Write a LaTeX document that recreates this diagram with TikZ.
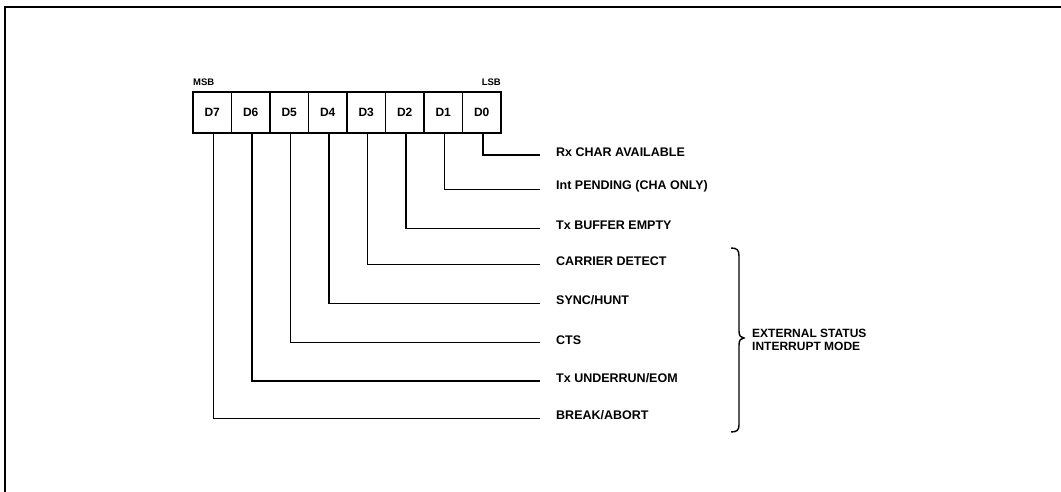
\documentclass[tikz,border=0pt]{standalone}
\usepackage{fontspec}
\setmainfont{Liberation Sans}
\begin{document}
\begin{tikzpicture}[x=1pt,y=-1pt,
  cell/.style={draw,line width=1.8pt,minimum width=38.5pt,minimum height=40.5pt,inner sep=0pt,
    font=\fontsize{12}{13}\selectfont\bfseries},
  lbl/.style={anchor=west,inner sep=0pt,font=\fontsize{12.5}{14}\selectfont\bfseries},
  small/.style={inner sep=0pt,font=\fontsize{9.5}{10}\selectfont\bfseries},
  wire/.style={line width=1.4pt}]
\useasboundingbox (0,0) rectangle (1061,492);
% frame
\draw[line width=2.6pt] (5,492) -- (5,7) -- (1061,7);
% register cells
\foreach \i [count=\k from 0] in {7,6,5,4,3,2,1,0}{
  \node[cell] (d\i) at (212.25+38.5*\k,112.5) {D\i};
}
\node[small,anchor=south west] (msb) at (193,86) {MSB};
\node[small,anchor=south east] (lsb) at (501,86) {LSB};
% connectors and labels
\foreach \i/\y/\t in {0/155/{Rx CHAR AVAILABLE},1/189.3/{Int PENDING (CHA ONLY)},2/228.3/{Tx BUFFER EMPTY},
  3/264.3/{CARRIER DETECT},4/303.3/{SYNC/HUNT},5/342.7/{CTS},6/381/{Tx UNDERRUN/EOM},7/418.3/{BREAK/ABORT}}{
  \coordinate (e\i) at (540,\y);
  \node[lbl] (l\i) at (556,\y-3) {\t};
  \draw[wire] ([xshift=1.2pt]d\i.south) |- (e\i);
}
% brace
\draw[line width=1.4pt] (731,248) .. controls (737,248) and (739,250) .. (739,256)
  -- (739,331) .. controls (739,336) and (741,338) .. (744,338)
  .. controls (741,338) and (739,340) .. (739,345)
  -- (739,425) .. controls (739,430) and (737,432) .. (731,432);
\node[anchor=west,inner sep=0pt,align=left,font=\fontsize{12}{13}\selectfont\bfseries] (ext) at (752,339.5)
  {EXTERNAL STATUS\\INTERRUPT MODE};
\end{tikzpicture}
\end{document}
